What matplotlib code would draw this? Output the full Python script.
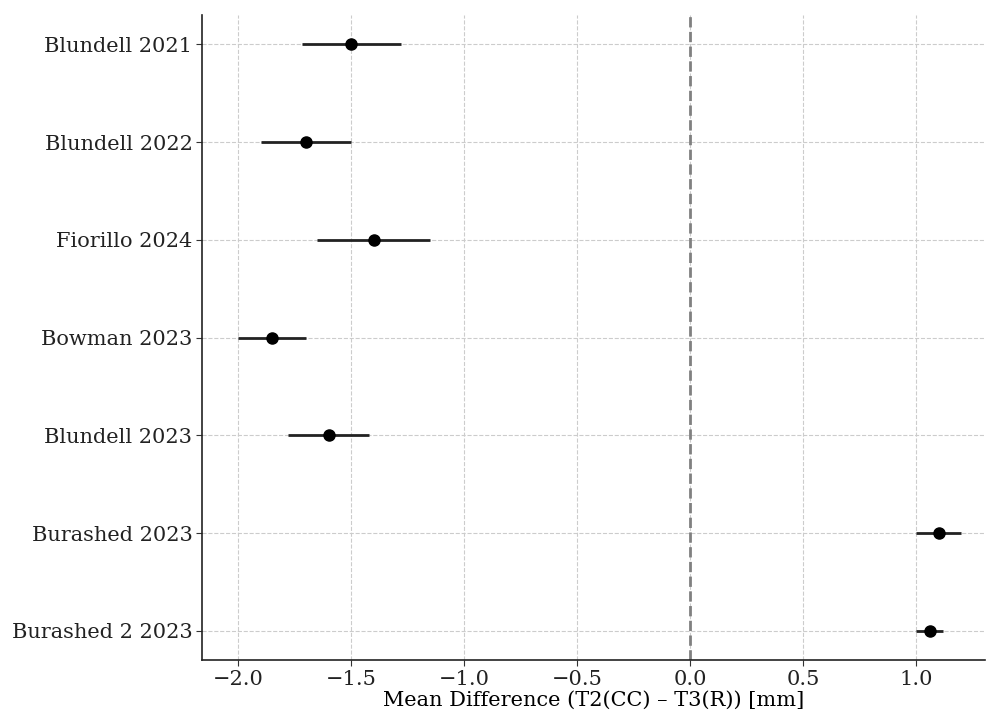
import numpy as np
import matplotlib
matplotlib.use("Agg")
import matplotlib.pyplot as plt

# Datos del forest plot
estudios = ["Blundell 2021", "Blundell 2022", "Fiorillo 2024", "Bowman 2023",
            "Blundell 2023", "Burashed 2023", "Burashed 2 2023"]
media = [-1.50, -1.70, -1.40, -1.85, -1.60, 1.10, 1.06]
ic_inf = [-1.72, -1.90, -1.65, -2.00, -1.78, 1.00, 1.00]
ic_sup = [-1.28, -1.50, -1.15, -1.70, -1.42, 1.20, 1.12]

plt.rcParams["font.family"] = ["DejaVu Serif"]
plt.rcParams["font.size"] = 15

fig, ax = plt.subplots(figsize=(9.86, 7.13), dpi=100)

y = np.arange(len(estudios))
media = np.array(media)
err = [media - np.array(ic_inf), np.array(ic_sup) - media]

ax.errorbar(media, y, xerr=err, fmt="o", color="black", ecolor="#222222",
            elinewidth=2, markersize=8, capsize=0, zorder=3)
ax.axvline(0, color="grey", linestyle="--", linewidth=2, zorder=2)

ax.set_yticks(y)
ax.set_yticklabels(estudios)
ax.set_xlim(-2.16, 1.305)
ax.set_ylim(6.3, -0.3)
ax.set_xlabel("Mean Difference (T2(CC) – T3(R)) [mm]", labelpad=1)

ax.grid(True, linestyle="--", color="#cccccc", linewidth=0.8)
ax.set_axisbelow(True)
for s in ["top", "right"]:
    ax.spines[s].set_visible(False)
for s in ["left", "bottom"]:
    ax.spines[s].set_linewidth(1.2)
    ax.spines[s].set_color("#222222")
ax.tick_params(colors="#333333", labelcolor="#222222", length=4, pad=3)

plt.subplots_adjust(left=0.205, right=0.999, top=0.979, bottom=0.074)
plt.savefig("out.png", dpi=100)
